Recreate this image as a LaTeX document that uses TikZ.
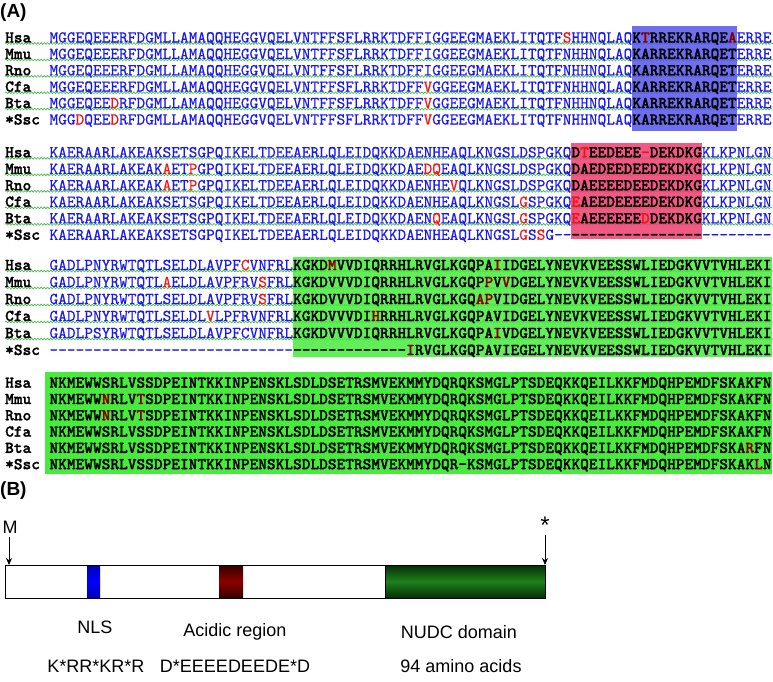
\documentclass[tikz,border=0pt]{standalone}
\usepackage{fontspec}
\setmainfont{Liberation Sans}
\newfontfamily\seqfont{lmmono10-regular}[Extension=.otf, FakeBold=0.6, BoldFont=lmmonolt10-bold, BoldFeatures={FakeBold=1.4}]
\usetikzlibrary{decorations.pathmorphing,arrows.meta}
\definecolor{seqblue}{RGB}{25,25,235}
\definecolor{seqred}{RGB}{240,20,20}
\definecolor{seqdred}{RGB}{130,0,0}
\definecolor{boxblue}{RGB}{85,85,235}
\definecolor{boxpink}{RGB}{238,60,110}
\definecolor{boxgreen}{RGB}{70,235,60}
\definecolor{wavygreen}{RGB}{60,185,60}
\definecolor{nudcdark}{RGB}{5,45,5}
\definecolor{nudcmid}{RGB}{30,130,30}
\newcommand\sR[1]{\textcolor{seqred}{#1}}
\newcommand\sD[1]{\textcolor{seqdred}{#1}}
\newcommand\sB[1]{{\bfseries\color{black}#1}}
\newcommand\g{-\kern0pt}
\newcommand\gfive{\g\g\g\g\g}
\newcommand\seqrow[4]{\node[lab] (#1l) at (5,#3) {#2};\node[seq] (#1) at (49.3,#3) {#4};}
\begin{document}
\begin{tikzpicture}[x=1pt,y=-1pt,
  seq/.style={anchor=base west, inner sep=0pt, font=\seqfont\fontsize{16.57}{16.57}\selectfont, text=seqblue},
  lab/.style={anchor=base west, inner sep=0pt, font=\seqfont\bfseries\fontsize{16.57}{16.57}\selectfont, text=black},
  wavy/.style={wavygreen, line width=0.6pt, decorate, decoration={snake, amplitude=0.9pt, segment length=3.2pt}},
  panel/.style={anchor=west, inner sep=0pt, font=\bfseries\fontsize{19}{19}\selectfont},
  btext/.style={inner sep=0pt, font=\fontsize{18}{18}\selectfont},
  arr/.style={-{Stealth[length=7pt,width=6pt]}, line width=0.8pt}
]
\useasboundingbox (0,0) rectangle (773,681);

% wavy underlines
\foreach \y in {43.5,59.9,76.3,92.7,109.1, 158.3,174.8,191.3,207.8,224.3, 271,288,305,322,339}
  \draw[wavy] (5,\y) -- (773,\y);

% highlight boxes
\fill[boxblue, fill opacity=0.85] (632.2,26) rectangle (736.6,130.7);
\fill[boxpink, fill opacity=0.85] (571.3,143) rectangle (701.8,239);
\fill[boxgreen, fill opacity=0.85] (292.9,257.3) rectangle (772,357.3);
\fill[boxgreen] (45,372.3) rectangle (772,474);

\node[panel] (A) at (0,13) {(A)};

% block 1
\seqrow{a1}{Hsa}{42.5}{MGGEQEEERFDGMLLAMAQQHEGGVQELVNTFFSFLRRKTDFFIGGEEGMAEKLITQTF\sR{S}HHNQLAQ\sB{K\sD{T}RREKRARQE\sD{A}}ERRE}
\seqrow{a2}{Mmu}{58.9}{MGGEQEEERFDGMLLAMAQQHEGGVQELVNTFFSFLRRKTDFFIGGEEGMAEKLITQTFNHHNQLAQ\sB{KARREKRARQET}ERRE}
\seqrow{a3}{Rno}{75.3}{MGGEQEEERFDGMLLAMAQQHEGGVQELVNTFFSFLRRKTDFFIGGEEGMAEKLITQTFNHHNQLAQ\sB{KARREKRARQET}ERRE}
\seqrow{a4}{Cfa}{91.7}{MGGEQEEERFDGMLLAMAQQHEGGVQELVNTFFSFLRRKTDFF\sR{V}GGEEGMAEKLITQTFNHHNQLAQ\sB{KARREKRARQET}ERRE}
\seqrow{a5}{Bta}{108.1}{MGGEQEE\sR{D}RFDGMLLAMAQQHEGGVQELVNTFFSFLRRKTDFF\sR{V}GGEEGMAEKLITQTFNHHNQLAQ\sB{KARREKRARQET}ERRE}
\seqrow{a6}{*Ssc}{124.5}{MGG\sR{D}QEE\sR{D}RFDGMLLAMAQQHEGGVQELVNTFFSFLRRKTDFF\sR{V}GGEEGMAEKLITQTFNHHNQLAQ\sB{KARREKRARQET}ERRE}

% block 2
\seqrow{b1}{Hsa}{157.3}{KAERAARLAKEAKSETSGPQIKELTDEEAERLQLEIDQKKDAENHEAQLKNGSLDSPGKQ\sB{D\sR{T}EEDEEE\sR{\g}DEKDKG}KLKPNLGN}
\seqrow{b2}{Mmu}{173.8}{KAERAARLAKEAK\sR{A}ET\sR{P}GPQIKELTDEEAERLQLEIDQKKDAE\sR{DQ}EAQLKNGSLDSPGKQ\sB{DAEDEEDEEDEKDKG}KLKPNLGN}
\seqrow{b3}{Rno}{190.3}{KAERAARLAKEAK\sR{A}ET\sR{P}GPQIKELTDEEAERLQLEIDQKKDAENHE\sR{V}QLKNGSLDSPGKQ\sB{DAEEEEDEEDEKDKG}KLKPNLGN}
\seqrow{b4}{Cfa}{206.8}{KAERAARLAKEAKSETSGPQIKELTDEEAERLQLEIDQKKDAENHEAQLKNGSL\sR{G}SPGKQ\sB{\sR{E}AEEDEEEEDEKDKG}KLKPNLGN}
\seqrow{b5}{Bta}{223.3}{KAERAARLAKEAKSETSGPQIKELTDEEAERLQLEIDQKKDAEN\sR{Q}EAQLKNGSL\sR{G}SPGKQ\sB{\sR{E}AEEEEEE\sR{D}DEKDKG}KLKPNLGN}
\seqrow{b6}{*Ssc}{239.8}{KAERAARLAKEAKSETSGPQIKELTDEEAERLQLEIDQKKDAENHEAQLKNGSL\sR{G}S\sR{S}G\g\g\sB{\gfive\gfive\gfive}\gfive\g\g\g}

% block 3
\seqrow{c1}{Hsa}{270}{GADLPNYRWTQTLSELDLAVPF\sR{C}VNFRL\sB{KGKD\sD{M}VVDIQRRHLRVGLKGQPA\sD{I}IDGELYNEVKVEESSWLIEDGKVVTVHLEKI}}
\seqrow{c2}{Mmu}{287}{GADLPNYRWTQTL\sR{A}ELDLAVPFRV\sR{S}FRL\sB{KGKDVVVDIQRRHLRVGLKGQP\sD{P}V\sD{V}DGELYNEVKVEESSWLIEDGKVVTVHLEKI}}
\seqrow{c3}{Rno}{304}{GADLPNYRWTQTLSELDLAVPFRV\sR{S}FRL\sB{KGKDVVVDIQRRHLRVGLKGQ\sD{AP}VIDGELYNEVKVEESSWLIEDGKVVTVHLEKI}}
\seqrow{c4}{Cfa}{321}{GADLPNYRWTQTLSELDL\sR{V}LPFRVNFRL\sB{KGKDVVVDI\sD{H}RRHLRVGLKGQPAVIDGELYNEVKVEESSWLIEDGKVVTVHLEKI}}
\seqrow{c5}{Bta}{338}{GADLPSYRWTQTLSELDLAVPFCVNFRL\sB{KGKDVVVDIQRRHLRVGLKGQPA\sD{I}VDGELYNEVKVEESSWLIEDGKVVTVHLEKI}}
\seqrow{c6}{*Ssc}{355}{\gfive\gfive\gfive\gfive\gfive\g\g\g\sB{\gfive\gfive\g\g\g\sD{I}RVGLKGQPAVIEGELYNEVKVEESSWLIEDGKVVTVHLEKI}}

% block 4
\seqrow{d1}{Hsa}{387.7}{\sB{NKMEWWSRLVSSDPEINTKKINPENSKLSDLDSETRSMVEKMMYDQRQKSMGLPTSDEQKKQEILKKFMDQHPEMDFSKAKFN}}
\seqrow{d2}{Mmu}{404}{\sB{NKMEWW\sD{N}RLV\sD{T}SDPEINTKKINPENSKLSDLDSETRSMVEKMMYDQRQKSMGLPTSDEQKKQEILKKFMDQHPEMDFSKAKFN}}
\seqrow{d3}{Rno}{420.3}{\sB{NKMEWW\sD{N}RLV\sD{T}SDPEINTKKINPENSKLSDLDSETRSMVEKMMYDQRQKSMGLPTSDEQKKQEILKKFMDQHPEMDFSKAKFN}}
\seqrow{d4}{Cfa}{436.6}{\sB{NKMEWWSRLVSSDPEINTKKINPENSKLSDLDSETRSMVEKMMYDQRQKSMGLPTSDEQKKQEILKKFMDQHPEMDFSKAKFN}}
\seqrow{d5}{Bta}{452.9}{\sB{NKMEWWSRLVSSDPEINTKKINPENSKLSDLDSETRSMVEKMMYDQRQKSMGLPTSDEQKKQEILKKFMDQHPEMDFSKA\sD{R}FN}}
\seqrow{d6}{*Ssc}{469.2}{\sB{NKMEWWSRLVSSDPEINTKKINPENSKLSDLDSETRSMVEKMMYDQR\g KSMGLPTSDEQKKQEILKKFMDQHPEMDFSKAK\sD{L}N}}

% panel B
\node[panel] (B) at (0,491) {(B)};
\node[draw, line width=0.7pt, fill=white, anchor=north west, minimum width=540pt, minimum height=33pt, inner sep=0pt, outer sep=0pt] (bar) at (5,565) {};
\shade[top color=nudcdark, bottom color=nudcdark, middle color=nudcmid] (385,565) rectangle (545,598);
\draw[line width=0.7pt] (385,565) rectangle (545,598);
\shade[top color=blue!70!black, bottom color=blue!70!black, middle color=blue] (87,565) rectangle (100,598);
\shade[top color=black!80!red, bottom color=black!80!red, middle color=red!55!black] (219,565) rectangle (243,598);
\draw[line width=0.7pt] (bar.north west) rectangle (bar.south east);

\node[btext] (M) at (10,527) {M};
\node[btext, font=\fontsize{24}{24}\selectfont] (star) at (545,525) {*};
\draw[arr] (M.south -| bar.north west) ++(4,4) coordinate (mtop) -- (mtop |- bar.north);
\draw[arr] (star.south) ++(0,2) coordinate (stop) -- (stop |- bar.north);

\node[btext] (nls) at (95,627) {NLS};
\node[btext] (acid) at (235,632) {Acidic region};
\node[btext] (nudc) at (459,632) {NUDC domain};
\node[btext] (nlsseq) at (96,666) {K*RR*KR*R};
\node[btext] (acidseq) at (235,666) {D*EEEEDEEDE*D};
\node[btext] (nudclen) at (461,666) {94 amino acids};
\end{tikzpicture}
\end{document}
